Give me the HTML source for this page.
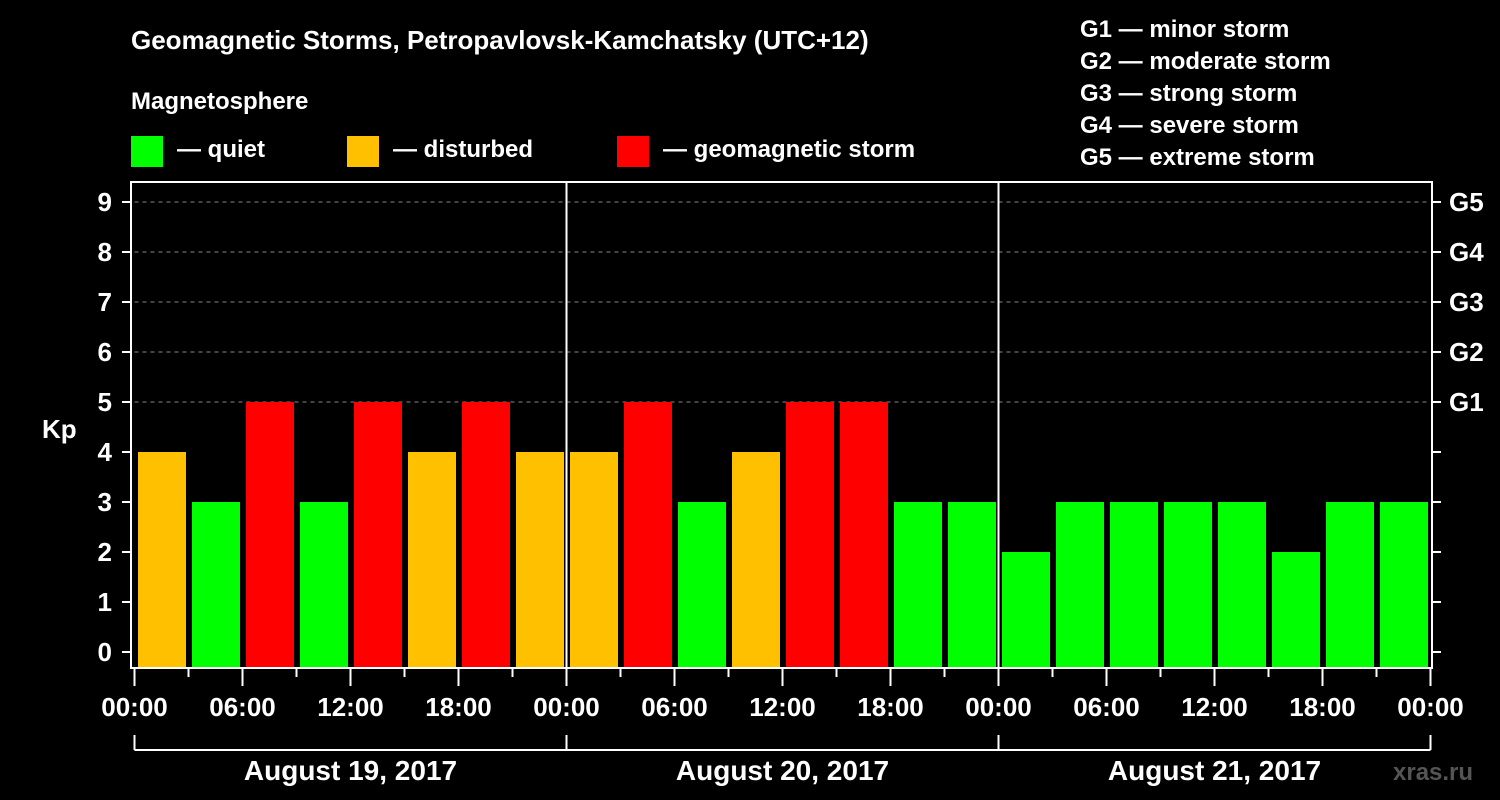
<!DOCTYPE html>
<html><head><meta charset="utf-8"><style>
body{margin:0;background:#000;}
svg{display:block;font-family:"Liberation Sans",Arial,sans-serif;font-weight:bold;fill:#fff;}
</style></head><body>
<svg id="c" width="1500" height="800" viewBox="0 0 1500 800">
<text x="131" y="49" font-size="26">Geomagnetic Storms, Petropavlovsk-Kamchatsky (UTC+12)</text>
<text x="131" y="109" font-size="24">Magnetosphere</text>
<rect x="131" y="136" width="32" height="31" fill="#00ff00"/>
<text x="177" y="157" font-size="24">— quiet</text>
<rect x="347" y="136" width="32" height="31" fill="#ffc000"/>
<text x="393" y="157" font-size="24">— disturbed</text>
<rect x="617" y="136" width="32" height="31" fill="#ff0000"/>
<text x="663" y="157" font-size="24">— geomagnetic storm</text>
<g font-size="24">
<text x="1080" y="37">G1 — minor storm</text>
<text x="1080" y="69">G2 — moderate storm</text>
<text x="1080" y="101">G3 — strong storm</text>
<text x="1080" y="133">G4 — severe storm</text>
<text x="1080" y="165">G5 — extreme storm</text>
</g>
<text x="42" y="438" font-size="26">Kp</text>
<text x="1393" y="780" font-size="24" fill="#555" style="fill:#555">xras.ru</text>
<g id="grid"></g><g id="bars"></g><g id="axes"></g>
</svg>
<script>
const days = ["August 19, 2017","August 20, 2017","August 21, 2017"];
const kpValues = [4,3,5,3,5,4,5,4, 4,5,3,4,5,5,3,3, 2,3,3,3,3,2,3,3];
const yTicks = [0,1,2,3,4,5,6,7,8,9];
const gLabels = ["G1","G2","G3","G4","G5"];
const xTickLabels = ["00:00","06:00","12:00","18:00"];
const NS="http://www.w3.org/2000/svg";
const x0=134.5, slotW=54, y0=652, unit=50, plotTop=182, plotBot=668, xEnd=x0+slotW*kpValues.length;
const X=i=>x0+i*slotW, Y=v=>y0-v*unit;
function mk(tag,attrs,parent,text){const e=document.createElementNS(NS,tag);for(const k in attrs)e.setAttribute(k,attrs[k]);if(text!==undefined)e.textContent=text;document.getElementById(parent).appendChild(e);return e;}
yTicks.forEach(v=>{
  if(v>=5){const g=mk('line',{x1:x0,x2:xEnd,y1:Y(v),y2:Y(v),stroke:'#888','stroke-width':1,'stroke-dasharray':'4,4'},'grid');
  
  }
  const t=mk('line',{x1:122,x2:131,y1:Y(v),y2:Y(v),stroke:'#fff','stroke-width':2},'axes');
  
  
  const l=mk('text',{x:112,y:Y(v)+9,'font-size':26,'text-anchor':'end'},'axes',String(v));
  
  
  const r=mk('line',{x1:1432,x2:1441,y1:Y(v),y2:Y(v),stroke:'#fff','stroke-width':2},'axes');
  
  
});
gLabels.forEach((g,i)=>{
  const t=mk('text',{x:1449,y:Y(5+i)+9,'font-size':26},'axes',g);
  
  
});
kpValues.forEach((v,i)=>{
  const c=v>=5?'#ff0000':(v>=4?'#ffc000':'#00ff00');
  const b=mk('rect',{x:X(i)+3.5,y:Y(v),width:48,height:plotBot-Y(v),fill:c},'bars');
  
  
});
const f=mk('rect',{x:131,y:plotTop,width:1301,height:plotBot-plotTop,fill:'none',stroke:'#fff','stroke-width':2},'axes');


for(let d=1;d<days.length;d++){
  const s=mk('line',{x1:X(d*8),x2:X(d*8),y1:plotTop,y2:plotBot,stroke:'#fff','stroke-width':2},'axes');
  
  
}
for(let i=0;i<=kpValues.length;i++){
  const major=i%2===0;
  const t=mk('line',{x1:X(i),x2:X(i),y1:plotBot,y2:major?686:677,stroke:'#fff','stroke-width':2},'axes');
  
  
  if(major){
    const l=mk('text',{x:X(i),y:716,'font-size':26,'text-anchor':'middle'},'axes',xTickLabels[(i/2)%4]);
    
    
  }
}
mk('line',{x1:X(0),x2:xEnd,y1:750,y2:750,stroke:'#fff','stroke-width':2},'axes');
days.forEach((d,k)=>{
  const v=mk('line',{x1:X(k*8),x2:X(k*8),y1:735,y2:750,stroke:'#fff','stroke-width':2},'axes');
  
  
  const l=mk('text',{x:(X(k*8)+X(k*8+8))/2,y:780,'font-size':28,'text-anchor':'middle'},'axes',d);
  
  
});
const e=mk('line',{x1:xEnd,x2:xEnd,y1:735,y2:750,stroke:'#fff','stroke-width':2},'axes');


</script>
</body></html>
